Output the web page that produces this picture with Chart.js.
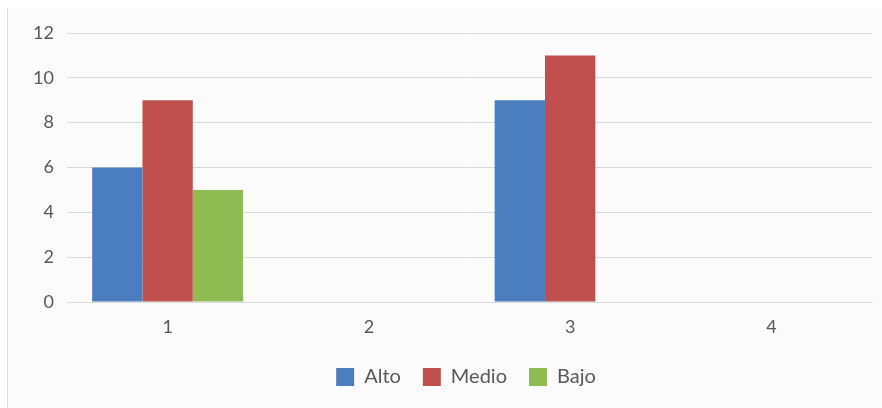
<!DOCTYPE html>
<html>
<head>
<meta charset="utf-8">
<script src="https://cdn.jsdelivr.net/npm/chart.js@4.4.0/dist/chart.umd.min.js"></script>
<style>
  html, body { margin: 0; padding: 0; background: #ffffff; }
  #wrap { position: absolute; left: 7px; top: 8px; width: 875px; height: 400px; background: #fbfbfb; border-left: 1px solid #dcdcdc; }
  canvas { display: block; }
</style>
</head>
<body>
<div id="wrap"><canvas id="c" width="875" height="400"></canvas></div>
<script>
const categories = ['1', '2', '3', '4'];
const alto = [6, 0, 9, 0];
const medio = [9, 0, 11, 0];
const bajo = [5, 0, 0, 0];
const seriesNames = ['Alto', 'Medio', 'Bajo'];
const yTicks = [0, 2, 4, 6, 8, 10, 12];

const textColor = '#595959';
const tickFont = { family: 'Lato, "Open Sans", sans-serif', size: 18 };
const legendFont = { family: 'Lato, "Open Sans", sans-serif', size: 20 };

const legendShift = {
  id: 'legendShift',
  afterLayout(chart) {
    const lg = chart.legend;
    if (lg) { lg.left += 26; lg.right += 26; }
  }
};

new Chart(document.getElementById('c'), {
  type: 'bar',
  data: {
    labels: categories,
    datasets: [
      { label: seriesNames[0], data: alto, backgroundColor: '#4a7ebe' },
      { label: seriesNames[1], data: medio, backgroundColor: '#c0504d' },
      { label: seriesNames[2], data: bajo, backgroundColor: '#8fbb53' }
    ]
  },
  plugins: [legendShift],
  options: {
    responsive: false,
    animation: false,
    layout: { padding: { left: 0, right: 11, top: 25, bottom: 11 } },
    datasets: { bar: { categoryPercentage: 0.75, barPercentage: 1.0 } },
    plugins: {
      legend: {
        position: 'bottom',
        labels: { boxWidth: 18, boxHeight: 18, padding: 22, color: textColor, font: legendFont }
      },
      tooltip: { enabled: false }
    },
    scales: {
      x: {
        grid: { display: false, drawTicks: false },
        border: { display: true, color: '#d9d9d9' },
        ticks: { color: textColor, font: tickFont, padding: 14 },
        afterFit: (s) => { s.height = 43; }
      },
      y: {
        min: 0, max: 12,
        afterBuildTicks: (s) => { s.ticks = yTicks.map(v => ({ value: v })); },
        grid: { color: '#d9d9d9', drawTicks: false },
        border: { display: false },
        ticks: { color: textColor, font: tickFont, padding: 13 },
        afterFit: (s) => { s.width = 59; }
      }
    }
  }
});
</script>
</body>
</html>
